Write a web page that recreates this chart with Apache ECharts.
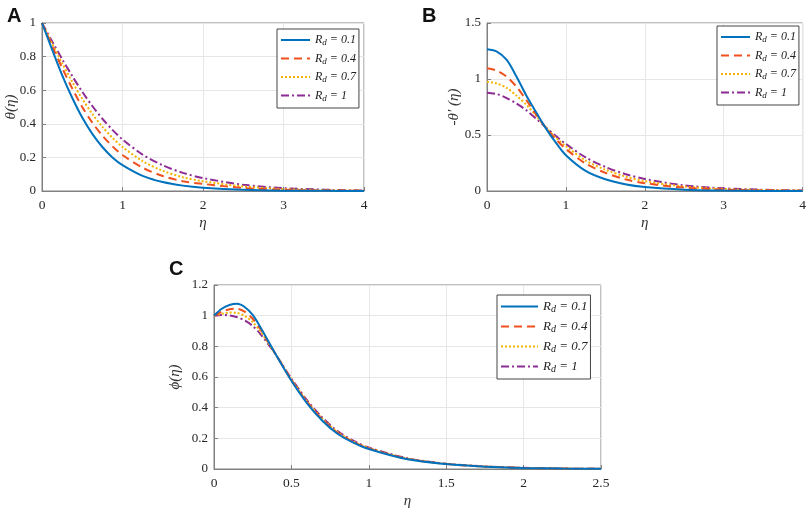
<!DOCTYPE html>
<html>
<head>
<meta charset="utf-8">
<script src="https://cdn.jsdelivr.net/npm/echarts@6/dist/echarts.min.js"></script>
<style>
  html, body { margin: 0; padding: 0; background: #fff; }
  #chart { width: 809px; height: 515px; }
</style>
</head>
<body>
<div id="chart"></div>
<script>
// values
const rdValues = ['0.1', '0.4', '0.7', '1'];

// panels A and B share the same eta samples
const etaAB = [0, 0.125, 0.25, 0.375, 0.5, 0.625, 0.75, 0.875, 1, 1.25, 1.5, 1.75, 2, 2.5, 3, 3.5, 4];

// A: theta(eta)
const thetaRd01 = [1, 0.843, 0.69, 0.555, 0.437, 0.34, 0.262, 0.2, 0.154, 0.09, 0.053, 0.032, 0.02, 0.007, 0.002, 0.001, 0];
const thetaRd04 = [1, 0.864, 0.733, 0.611, 0.5, 0.407, 0.33, 0.266, 0.214, 0.139, 0.089, 0.058, 0.042, 0.018, 0.007, 0.003, 0.001];
const thetaRd07 = [1, 0.879, 0.761, 0.65, 0.549, 0.459, 0.382, 0.317, 0.262, 0.178, 0.12, 0.082, 0.058, 0.027, 0.012, 0.005, 0.002];
const thetaRd1 = [1, 0.891, 0.785, 0.685, 0.591, 0.506, 0.43, 0.364, 0.307, 0.217, 0.153, 0.108, 0.077, 0.037, 0.017, 0.008, 0.003];

// B: -theta'(eta)
const dthetaRd01 = [1.265, 1.245, 1.17, 1.02, 0.85, 0.7, 0.555, 0.43, 0.32, 0.18, 0.105, 0.06, 0.035, 0.012, 0.004, 0.001, 0];
const dthetaRd04 = [1.095, 1.075, 1.02, 0.93, 0.81, 0.68, 0.56, 0.46, 0.375, 0.245, 0.162, 0.105, 0.07, 0.03, 0.013, 0.005, 0.002];
const dthetaRd07 = [0.975, 0.96, 0.92, 0.85, 0.77, 0.67, 0.565, 0.475, 0.4, 0.272, 0.19, 0.13, 0.088, 0.04, 0.018, 0.008, 0.003];
const dthetaRd1 = [0.877, 0.865, 0.83, 0.78, 0.72, 0.645, 0.565, 0.49, 0.42, 0.3, 0.215, 0.152, 0.107, 0.05, 0.024, 0.011, 0.005];

// C: phi(eta)
const etaC = [0, 0.05, 0.1, 0.15, 0.2, 0.25, 0.3, 0.35, 0.4, 0.5, 0.6, 0.7, 0.8, 0.9, 1, 1.25, 1.5, 1.75, 2, 2.25, 2.5];
const phiRd01 = [1, 1.045, 1.07, 1.077, 1.055, 1.005, 0.925, 0.835, 0.745, 0.575, 0.43, 0.315, 0.228, 0.172, 0.13, 0.063, 0.032, 0.015, 0.007, 0.003, 0.001];
const phiRd04 = [1, 1.025, 1.042, 1.045, 1.025, 0.98, 0.912, 0.83, 0.745, 0.58, 0.437, 0.322, 0.235, 0.176, 0.134, 0.066, 0.033, 0.016, 0.007, 0.003, 0.001];
const phiRd07 = [1, 1.012, 1.02, 1.018, 0.998, 0.958, 0.897, 0.822, 0.745, 0.585, 0.443, 0.328, 0.24, 0.18, 0.137, 0.068, 0.034, 0.016, 0.007, 0.003, 0.001];
const phiRd1 = [1, 1.004, 1.002, 0.99, 0.968, 0.933, 0.88, 0.815, 0.745, 0.59, 0.45, 0.335, 0.246, 0.185, 0.14, 0.07, 0.035, 0.017, 0.008, 0.003, 0.001];

const xTicksAB = [0, 1, 2, 3, 4];
const xTicksC = [0, 0.5, 1, 1.5, 2, 2.5];

const colors = ['#0072bd', '#f0501e', '#f5b400', '#8e2b94'];
const dashes = ['solid', [8, 5], [2, 2], [8, 3, 2, 3]];
const names = rdValues.map(v => 'Rd = ' + v);

const serif = 'Liberation Serif';
const grey = '#808080';

function pairs(xs, ys) {
  return xs.map((x, i) => [x, ys[i]]);
}

function makeSeries(idx, xs, ysList) {
  return ysList.map((ys, k) => ({
    name: names[k],
    type: 'line',
    xAxisIndex: idx,
    yAxisIndex: idx,
    data: pairs(xs, ys),
    symbol: 'none',
    smooth: 0.3,
    color: colors[k],
    lineStyle: { width: 2, type: dashes[k], color: colors[k] },
    z: 10 - k
  }));
}

function xAxis(idx, max, interval) {
  return {
    type: 'value', gridIndex: idx, min: 0, max: max, interval: interval,
    name: 'η', nameLocation: 'middle', nameGap: 25, nameMoveOverlap: false,
    nameTextStyle: { fontFamily: serif, fontStyle: 'italic', fontSize: 15, color: '#333' },
    axisLine: { show: true, lineStyle: { color: grey } },
    axisTick: { show: true, inside: true, length: 4, lineStyle: { color: grey } },
    axisLabel: { fontFamily: serif, fontSize: 13.5, color: '#262626', margin: 7 },
    splitLine: { show: true, lineStyle: { color: '#e6e6e6' } }
  };
}

function yAxis(idx, max, interval, name, gap) {
  return {
    type: 'value', gridIndex: idx, min: 0, max: max, interval: interval,
    name: name, nameLocation: 'middle', nameGap: gap, nameMoveOverlap: false,
    nameTextStyle: { fontFamily: serif, fontStyle: 'italic', fontSize: 15, color: '#333' },
    axisLine: { show: true, lineStyle: { color: grey } },
    axisTick: { show: true, inside: true, length: 4, lineStyle: { color: grey } },
    axisLabel: { fontFamily: serif, fontSize: 13, color: '#262626', margin: 6 },
    splitLine: { show: true, lineStyle: { color: '#e6e6e6' } }
  };
}

function legend(left, top, itemWidth, gap, size) {
  return {
    data: names,
    orient: 'vertical',
    left: left, top: top,
    itemWidth: itemWidth, itemHeight: 10, itemGap: gap,
    padding: [5, 3, 5, 3],
    borderColor: '#444', borderWidth: 1, backgroundColor: '#fff',
    itemStyle: { opacity: 0 },
    formatter: function (n) {
      return '{i|R}{s|d}{i| = ' + n.split('= ')[1] + '}';
    },
    textStyle: {
      fontFamily: serif, fontStyle: 'italic', fontSize: size, color: '#222',
      rich: {
        i: { fontFamily: serif, fontStyle: 'italic', fontSize: size, lineHeight: 15, verticalAlign: 'middle' },
        s: { fontFamily: serif, fontStyle: 'italic', fontSize: size - 3, lineHeight: 15, verticalAlign: 'bottom' }
      }
    }
  };
}

const chart = echarts.init(document.getElementById('chart'));
chart.setOption({
  backgroundColor: '#fff',
  animation: false,
  title: [
    { text: 'A', left: 2, top: 1, textStyle: { fontFamily: 'Liberation Sans', fontWeight: 'bold', fontSize: 20, color: '#111' } },
    { text: 'B', left: 417, top: 1, textStyle: { fontFamily: 'Liberation Sans', fontWeight: 'bold', fontSize: 20, color: '#111' } },
    { text: 'C', left: 164, top: 254, textStyle: { fontFamily: 'Liberation Sans', fontWeight: 'bold', fontSize: 20, color: '#111' } }
  ],
  grid: [
    { left: 42, top: 23, width: 322, height: 168, show: true, borderColor: grey, borderWidth: 1 },
    { left: 487, top: 23, width: 317, height: 168, show: true, borderColor: grey, borderWidth: 1 },
    { left: 214, top: 285, width: 387, height: 184, show: true, borderColor: grey, borderWidth: 1 }
  ],
  xAxis: [
    xAxis(0, xTicksAB[xTicksAB.length - 1], 1),
    xAxis(1, xTicksAB[xTicksAB.length - 1], 1),
    xAxis(2, xTicksC[xTicksC.length - 1], 0.5)
  ],
  yAxis: [
    yAxis(0, 1, 0.2, 'θ(η)', 23),
    yAxis(1, 1.5, 0.5, '-θ′ (η)', 25),
    yAxis(2, 1.2, 0.2, 'ϕ(η)', 31)
  ],
  legend: [
    legend(277, 29, 29, 5, 12),
    legend(717, 26, 29, 5, 12),
    legend(497, 295, 37, 6, 13)
  ],
  series: [].concat(
    makeSeries(0, etaAB, [thetaRd01, thetaRd04, thetaRd07, thetaRd1]),
    makeSeries(1, etaAB, [dthetaRd01, dthetaRd04, dthetaRd07, dthetaRd1]),
    makeSeries(2, etaC, [phiRd01, phiRd04, phiRd07, phiRd1])
  )
});
</script>
</body>
</html>
